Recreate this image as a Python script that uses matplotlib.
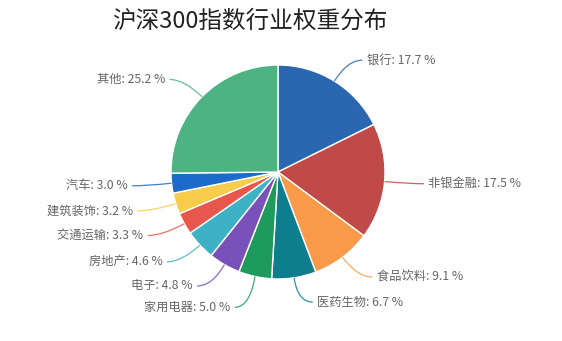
import numpy as np
import matplotlib
matplotlib.use("Agg")
import matplotlib.pyplot as plt
from matplotlib.path import Path
from matplotlib.patches import PathPatch

plt.rcParams['font.family'] = ['Noto Sans CJK SC', 'DejaVu Sans']

title = "沪深300指数行业权重分布"
categories = ["银行", "非银金融", "食品饮料", "医药生物", "家用电器", "电子",
              "房地产", "交通运输", "建筑装饰", "汽车", "其他"]
values = [17.7, 17.5, 9.1, 6.7, 5.0, 4.8, 4.6, 3.3, 3.2, 3.0, 25.2]
colors = ["#2B67B1", "#BF4A47", "#F89A4A", "#0E7E8F", "#1D9A5C", "#7952B9",
          "#3DB2C4", "#E8574E", "#F7CC4A", "#1C6AC9", "#4EB383"]

W, H = 562, 341
cx, cy, R = 278, 172, 107  # pixel center / radius

fig = plt.figure(figsize=(W / 100, H / 100), dpi=100)
ax = fig.add_axes([0, 0, 1, 1])
wedges, _ = ax.pie(values, colors=colors, startangle=90, counterclock=False,
                   radius=1.0, center=(0, 0),
                   wedgeprops=dict(edgecolor="white", linewidth=1.0))
ax.set_xlim(-cx / R, (W - cx) / R)
ax.set_ylim(-(H - cy) / R, cy / R)
ax.set_aspect('auto')
ax.axis('off')

r_elbow = 1.23
h_len = 0.14
gap = 0.04
min_sep = 0.2

items = []
for w, cat, val, col in zip(wedges, categories, values, colors):
    ang = np.deg2rad((w.theta1 + w.theta2) / 2)
    c, s = np.cos(ang), np.sin(ang)
    side = 1 if c >= 0 else -1
    items.append(dict(cat=cat, val=val, col=col, c=c, s=s, side=side,
                      ey=r_elbow * s, ex=r_elbow * c))

for side in (1, -1):
    grp = sorted([it for it in items if it['side'] == side], key=lambda d: -d['ey'])
    for a, b in zip(grp, grp[1:]):
        if a['ey'] - b['ey'] < min_sep:
            b['ey'] = a['ey'] - min_sep

for it in items:
    p0 = (it['c'], it['s'])
    p1 = (it['ex'], it['ey'])
    p2 = (it['ex'] + it['side'] * h_len, it['ey'])
    path = Path([p0, p1, p2], [Path.MOVETO, Path.CURVE3, Path.CURVE3])
    ax.add_patch(PathPatch(path, facecolor='none', edgecolor=it['col'],
                           linewidth=0.9, alpha=0.85))
    ax.text(p2[0] + it['side'] * gap, p2[1], f"{it['cat']}: {it['val']:.1f} %",
            ha='left' if it['side'] > 0 else 'right', va='center',
            fontsize=8.8, color='#666666')

fig.text(250 / W, 1 - 21 / H, title, ha='center', va='center',
         fontsize=17, fontweight='medium', color='#222222')

fig.savefig("out.png", dpi=100)
